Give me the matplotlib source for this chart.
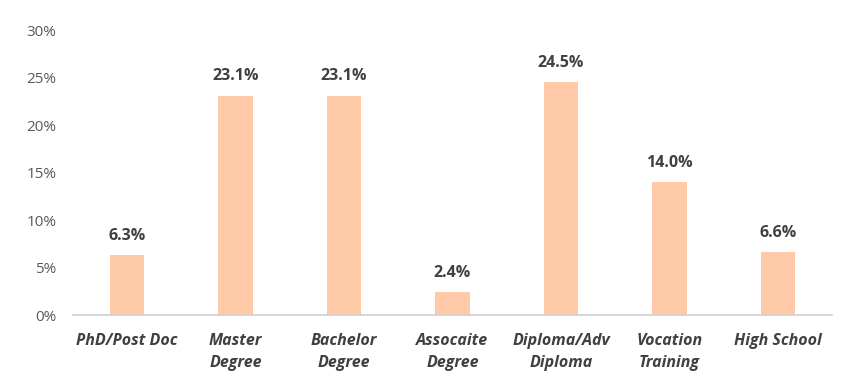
import matplotlib.pyplot as plt
from matplotlib.ticker import PercentFormatter

categories = ["PhD/Post Doc", "Master\nDegree", "Bachelor\nDegree", "Assocaite\nDegree",
              "Diploma/Adv\nDiploma", "Vocation\nTraining", "High School"]
values = [6.3, 23.1, 23.1, 2.4, 24.5, 14.0, 6.6]

plt.rcParams["font.family"] = ["Open Sans", "DejaVu Sans"]

fig = plt.figure(figsize=(8.57, 3.90), dpi=100)
ax = fig.add_axes([0.085, 0.192, 0.886, 0.731])

x = range(len(categories))
bars = ax.bar(x, values, width=0.32, color="#FFCAA8")

for xi, v in zip(x, values):
    ax.text(xi, v + 1.2, f"{v:.1f}%", ha="center", va="bottom",
            fontsize=11.5, fontweight="bold", color="#404040")

ax.set_xlim(-0.5, len(categories) - 0.5)
ax.set_ylim(0, 30)
ax.set_yticks(range(0, 31, 5))
ax.yaxis.set_major_formatter(PercentFormatter(decimals=0))
ax.set_xticks(list(x))
ax.set_xticklabels(categories, fontsize=11.5, fontweight="bold", fontstyle="italic",
                   color="#404040", linespacing=1.45)
ax.tick_params(axis="y", length=0, labelsize=11, labelcolor="#595959", pad=12)
ax.tick_params(axis="x", length=0, pad=13)

for s in ["top", "right", "left"]:
    ax.spines[s].set_visible(False)
ax.spines["bottom"].set_color("#D0D0D0")
ax.spines["bottom"].set_linewidth(1.2)

plt.savefig("out.png", dpi=100)
